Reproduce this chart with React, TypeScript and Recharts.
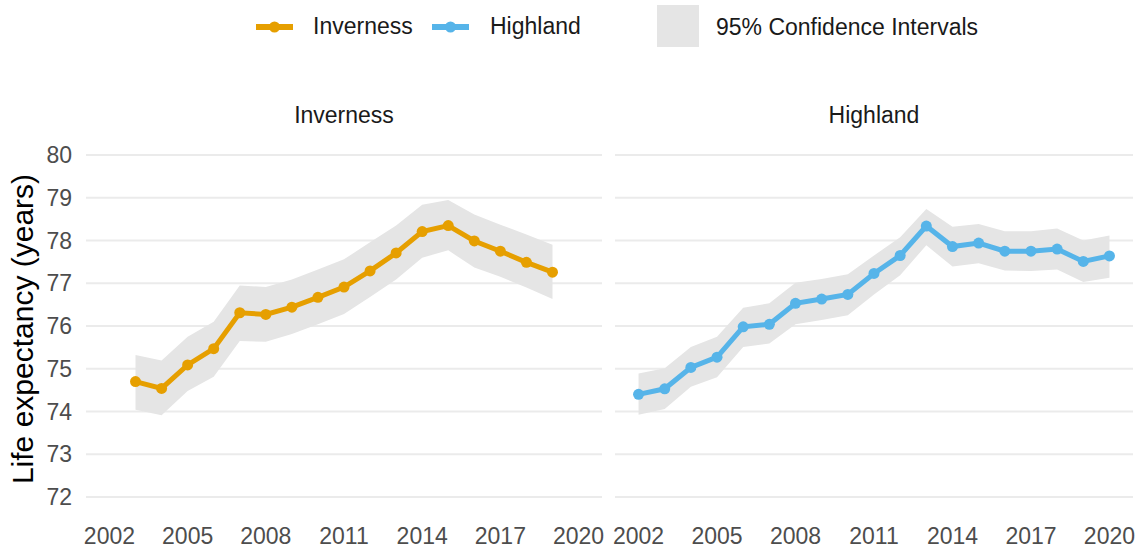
import React from 'react';
import { ComposedChart, Area, Line, XAxis, YAxis, CartesianGrid, Label } from 'recharts';

const invYears = [2003, 2004, 2005, 2006, 2007, 2008, 2009, 2010, 2011, 2012, 2013, 2014, 2015, 2016, 2017, 2018, 2019];
const invLE = [74.70, 74.54, 75.09, 75.47, 76.31, 76.27, 76.44, 76.67, 76.91, 77.29, 77.71, 78.21, 78.35, 77.99, 77.75, 77.49, 77.26];
const invLower = [74.04, 73.91, 74.48, 74.81, 75.65, 75.63, 75.81, 76.04, 76.28, 76.68, 77.09, 77.60, 77.77, 77.37, 77.15, 76.90, 76.63];
const invUpper = [75.32, 75.19, 75.75, 76.10, 76.95, 76.91, 77.09, 77.32, 77.56, 77.96, 78.35, 78.84, 78.95, 78.61, 78.37, 78.14, 77.90];

const hlYears = [2002, 2003, 2004, 2005, 2006, 2007, 2008, 2009, 2010, 2011, 2012, 2013, 2014, 2015, 2016, 2017, 2018, 2019, 2020];
const hlLE = [74.40, 74.53, 75.03, 75.27, 75.98, 76.04, 76.53, 76.63, 76.74, 77.23, 77.65, 78.34, 77.86, 77.94, 77.75, 77.75, 77.80, 77.51, 77.64];
const hlLower = [73.92, 74.06, 74.58, 74.80, 75.51, 75.59, 76.04, 76.14, 76.25, 76.74, 77.19, 77.89, 77.39, 77.47, 77.30, 77.29, 77.32, 77.03, 77.13];
const hlUpper = [74.89, 75.01, 75.51, 75.75, 76.43, 76.53, 77.01, 77.10, 77.21, 77.65, 78.08, 78.74, 78.32, 78.39, 78.22, 78.22, 78.28, 78.00, 78.12];

const xTicks = [2002, 2005, 2008, 2011, 2014, 2017, 2020];
const yTicks = [72, 73, 74, 75, 76, 77, 78, 79, 80];
const panelTitles = ['Inverness', 'Highland'];
const legendLabels = ['Inverness', 'Highland', '95% Confidence Intervals'];
const yTitle = 'Life expectancy (years)';

const ORANGE = '#E69F00';
const BLUE = '#56B4E9';
const BAND = '#E5E5E5';
const FONT = '"Liberation Sans", Arial, sans-serif';

const invData = invYears.map((y, i) => ({ year: y, le: invLE[i], ci: [invLower[i], invUpper[i]] }));
const hlData = hlYears.map((y, i) => ({ year: y, le: hlLE[i], ci: [hlLower[i], hlUpper[i]] }));

const xDomain: [number, number] = [2001.1, 2020.9];
const yDomain: [number, number] = [71.6, 80.4];

function Panel({ data, color, showY, width, marginLeft, marginRight }: any) {
  return (
    <ComposedChart
      width={width}
      height={553}
      data={data}
      margin={{ top: 138, bottom: 0, left: marginLeft, right: marginRight }}
    >
      <CartesianGrid vertical={false} stroke="#EBEBEB" strokeWidth={2} syncWithTicks />
      <XAxis
        type="number"
        dataKey="year"
        domain={xDomain}
        ticks={xTicks}
        interval={0}
        allowDataOverflow
        axisLine={false}
        tickLine={false}
        tickSize={0}
        tickMargin={14}
        height={39}
        tick={{ fill: '#4D4D4D', fontSize: 23, fontFamily: FONT }}
      />
      <YAxis
        type="number"
        domain={yDomain}
        ticks={yTicks}
        interval={0}
        allowDataOverflow
        hide={!showY}
        width={showY ? 86 : 0}
        axisLine={false}
        tickLine={false}
        tickSize={0}
        tickMargin={14}
        tick={{ fill: '#4D4D4D', fontSize: 23, fontFamily: FONT }}
      >
        {showY ? (
          <Label
            content={() => (
              <text
                x={33}
                y={329}
                transform="rotate(-90 33 329)"
                textAnchor="middle"
                fontSize={30}
                fontFamily={FONT}
                fill="#000000"
              >
                {yTitle}
              </text>
            )}
          />
        ) : null}
      </YAxis>
      <Area
        type="linear"
        dataKey="ci"
        stroke="none"
        fill={BAND}
        fillOpacity={1}
        isAnimationActive={false}
        dot={false}
        activeDot={false}
      />
      <Line
        type="linear"
        dataKey="le"
        stroke={color}
        strokeWidth={5}
        dot={{ r: 5.5, fill: color, stroke: color, strokeWidth: 0 }}
        activeDot={false}
        isAnimationActive={false}
      />
    </ComposedChart>
  );
}

export default function App() {
  const textStyle: React.CSSProperties = {
    position: 'absolute',
    fontFamily: FONT,
    fontSize: 23,
    color: '#1A1A1A',
    whiteSpace: 'nowrap',
    lineHeight: '23px',
  };
  return (
    <div
      style={{
        position: 'absolute',
        left: 0,
        top: 0,
        width: 1143,
        height: 553,
        background: '#FFFFFF',
        overflow: 'hidden',
        fontFamily: FONT,
      }}
    >
      <div style={{ position: 'absolute', left: 0, top: 0 }}>
        <Panel data={invData} color={ORANGE} showY width={610} marginLeft={0} marginRight={8} />
      </div>
      <div style={{ position: 'absolute', left: 610, top: 0 }}>
        <Panel data={hlData} color={BLUE} showY={false} width={533} marginLeft={5} marginRight={10} />
      </div>

      <div style={{ ...textStyle, left: 86, width: 516, top: 104, textAlign: 'center' }}>{panelTitles[0]}</div>
      <div style={{ ...textStyle, left: 615, width: 518, top: 104, textAlign: 'center' }}>{panelTitles[1]}</div>

      <svg width={1143} height={55} style={{ position: 'absolute', left: 0, top: 0 }}>
        <line x1={256} y1={27} x2={293} y2={27} stroke={ORANGE} strokeWidth={6} />
        <circle cx={274.5} cy={27} r={5.5} fill={ORANGE} />
        <text x={313} y={34} fontSize={23} fontFamily={FONT} fill="#1A1A1A">{legendLabels[0]}</text>
        <line x1={432} y1={27} x2={469} y2={27} stroke={BLUE} strokeWidth={6} />
        <circle cx={450.5} cy={27} r={5.5} fill={BLUE} />
        <text x={490} y={34} fontSize={23} fontFamily={FONT} fill="#1A1A1A">{legendLabels[1]}</text>
        <rect x={657} y={5} width={42} height={42} fill={BAND} />
        <text x={716} y={35} fontSize={23} fontFamily={FONT} fill="#1A1A1A">{legendLabels[2]}</text>
      </svg>
    </div>
  );
}
